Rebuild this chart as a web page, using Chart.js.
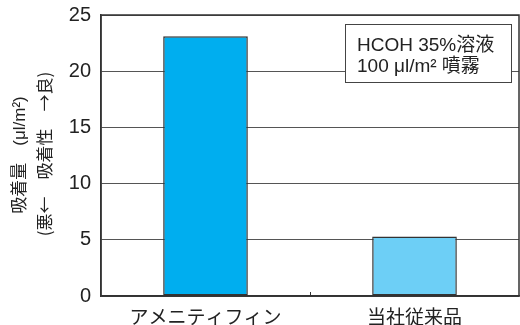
<!DOCTYPE html>
<html>
<head>
<meta charset="utf-8">
<script src="https://cdn.jsdelivr.net/npm/chart.js@4/dist/chart.umd.min.js"></script>
<style>
  html, body { margin: 0; padding: 0; background: #fff; }
  #wrap { width: 520px; height: 325px; }
</style>
</head>
<body>
<div id="wrap"><canvas id="c" width="520" height="325"></canvas></div>
<script>
// データ
const categories = ["アメニティフィン", "当社従来品"];
const values = [23.1, 5.3];
const barColors = ["#00aeef", "#6dcff6"];
const yTitleLines = ["吸着量\u3000(μl/m²)", "(悪←\u3000吸着性\u3000→良)"];
const noteLines = ["HCOH 35%溶液", "100 μl/m² 噴霧"];

const FONT = '"Liberation Sans", "Noto Sans CJK JP", sans-serif';
const FONT_JP = '"Noto Sans CJK JP", "Liberation Sans", sans-serif';
const INK = "#222";

// 枠線・注記・Y軸タイトル
const decor = {
    id: "decor",
    afterDatasetsDraw(chart) {
        const { ctx, chartArea: a, scales } = chart;
        ctx.save();
        // 中央の目盛り
        const mid = (scales.x.getPixelForValue(0) + scales.x.getPixelForValue(1)) / 2;
        ctx.strokeStyle = "#333";
        ctx.lineWidth = 1;
        ctx.beginPath();
        ctx.moveTo(Math.round(mid) + 0.5, a.bottom);
        ctx.lineTo(Math.round(mid) + 0.5, a.bottom - 4);
        ctx.stroke();
        // 外枠
        ctx.lineWidth = 1.5;
        ctx.strokeRect(a.left, a.top, a.right - a.left, a.bottom - a.top);
        // 注記ボックス
        const bx = 345, by = 24, bw = 166, bh = 58;
        ctx.fillStyle = "#fff";
        ctx.fillRect(bx, by, bw, bh);
        ctx.lineWidth = 1;
        ctx.strokeStyle = "#444";
        ctx.strokeRect(bx + 0.5, by + 0.5, bw, bh);
        ctx.fillStyle = INK;
        ctx.font = "19px " + FONT;
        ctx.textBaseline = "middle";
        ctx.textAlign = "left";
        ctx.fillText(noteLines[0], 357, 46);
        ctx.fillText(noteLines[1], 357, 67);
        ctx.restore();
    },
    afterDraw(chart) {
        const { ctx } = chart;
        ctx.save();
        ctx.fillStyle = INK;
        ctx.textAlign = "center";
        ctx.textBaseline = "middle";
        [[20, 155, FONT, yTitleLines[0]], [45, 154, FONT_JP, yTitleLines[1]]].forEach(([x, y, f, t]) => {
            ctx.save();
            ctx.font = "17px " + f;
            ctx.translate(x, y);
            ctx.rotate(-Math.PI / 2);
            ctx.fillText(t, 0, 0);
            ctx.restore();
        });
        ctx.restore();
    }
};

new Chart(document.getElementById("c"), {
    type: "bar",
    data: {
        labels: categories,
        datasets: [{
            data: values,
            backgroundColor: barColors,
            borderColor: "#333",
            borderWidth: 1.5,
            borderSkipped: false,
            categoryPercentage: 1,
            barPercentage: 0.405
        }]
    },
    options: {
        responsive: false,
        animation: false,
        devicePixelRatio: 1,
        layout: { padding: { top: 15, right: 1, left: 0, bottom: 0 } },
        plugins: { legend: { display: false }, tooltip: { enabled: false } },
        scales: {
            x: {
                grid: { display: false },
                border: { color: "#333", width: 1.5 },
                ticks: { color: INK, font: { family: FONT, size: 19 }, padding: 3 },
                afterFit(s) { s.height = 29; s.paddingLeft = 0; s.paddingRight = 0; }
            },
            y: {
                min: 0,
                max: 25,
                ticks: { stepSize: 5, color: INK, font: { family: FONT, size: 20 }, padding: 10 },
                grid: { color: "#555", lineWidth: 1, drawTicks: false },
                border: { color: "#333", width: 1.5 },
                afterFit(s) { s.width = 101; s.paddingTop = 0; s.paddingBottom = 0; }
            }
        }
    },
    plugins: [decor]
});
</script>
</body>
</html>
